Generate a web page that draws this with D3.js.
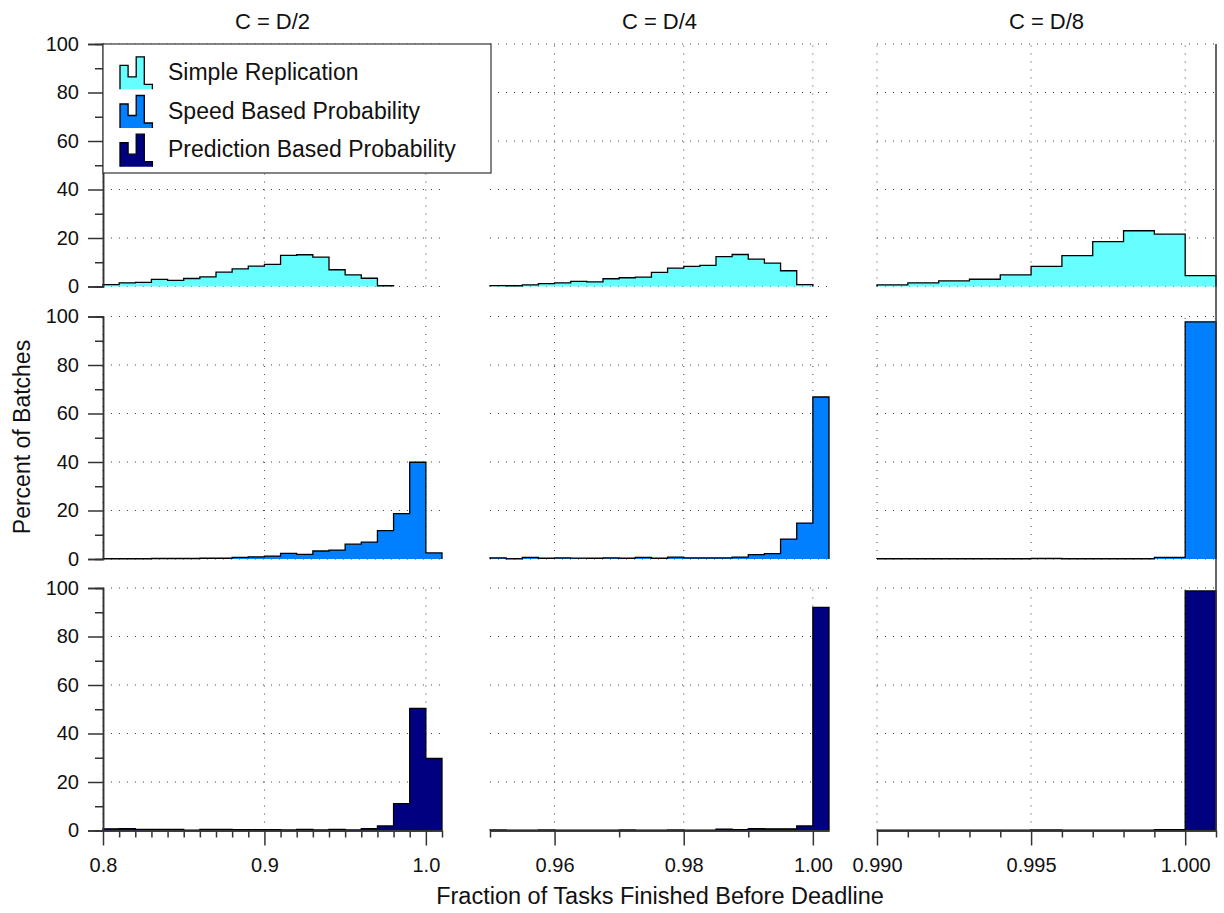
<!DOCTYPE html>
<html>
<head>
<meta charset="utf-8">
<script src="https://cdn.jsdelivr.net/npm/d3@7"></script>
<style>
  html, body { margin: 0; padding: 0; background: #fff; }
  svg text { font-family: "Liberation Sans", Arial, Helvetica, sans-serif; fill: #111; }
</style>
</head>
<body>
<svg id="chart" width="1224" height="913"></svg>
<script>
// Panel columns (replication budget) and histogram series (rows)
const columns = ["C = D/2", "C = D/4", "C = D/8"];
const seriesNames = ["Simple Replication", "Speed Based Probability", "Prediction Based Probability"];
const seriesColors = ["#66FFFF", "#0080FF", "#000080"];

// Histogram binning per column
const binStart = [0.80, 0.95, 0.990];
const binWidth = [0.01, 0.0025, 0.001];
const xDomains = [[0.80, 1.01], [0.95, 1.0025], [0.990, 1.001]];
const xMajorTicks = [[0.8, 0.9, 1.0], [0.96, 0.98, 1.00], [0.990, 0.995, 1.000]];
const xMinorStep = [0.01, 0.01, 0.001];
const xTickFormats = [".1f", ".2f", ".3f"];
const yMajorTicks = [0, 20, 40, 60, 80, 100];
const yMinorTicks = [10, 30, 50, 70, 90];

// Percent of batches per bin — Simple Replication
const simpleD2 = [0.8, 1.5, 1.7, 2.9, 2.5, 3.3, 4.0, 5.9, 7.3, 8.4, 9.1, 12.8, 13.1, 12.1, 6.9, 4.8, 3.4, 0.3];
const simpleD4 = [0.4, 0.3, 0.7, 1.2, 1.5, 2.1, 1.9, 3.2, 3.6, 3.9, 5.8, 7.6, 8.3, 8.7, 12.3, 13.2, 11.3, 9.6, 6.5, 0.8];
const simpleD8 = [0.7, 1.5, 2.3, 3.0, 4.8, 8.3, 12.7, 18.5, 23.0, 21.6, 4.5];

// Speed Based Probability
const speedD2 = [0.1, 0.1, 0.1, 0.2, 0.2, 0.2, 0.3, 0.3, 0.7, 0.9, 1.2, 2.3, 1.9, 3.3, 3.7, 6.1, 7.0, 11.7, 18.7, 39.9, 2.5];
const speedD4 = [0.5, 0.1, 0.7, 0.3, 0.5, 0.4, 0.3, 0.5, 0.3, 0.7, 0.3, 0.8, 0.5, 0.5, 0.5, 0.8, 1.8, 2.2, 8.2, 14.8, 66.8];
const speedD8 = [0.1, 0.1, 0.1, 0.1, 0.1, 0.2, 0.1, 0.1, 0.1, 0.7, 97.8];

// Prediction Based Probability
const predD2 = [0.7, 0.8, 0.5, 0.5, 0.5, 0.1, 0.5, 0.5, 0.3, 0.4, 0.3, 0.2, 0.5, 0.2, 0.5, 0.2, 0.8, 1.9, 11.1, 50.4, 29.7];
const predD4 = [0.2, 0.1, 0.1, 0.2, 0.1, 0.1, 0.1, 0.1, 0.2, 0.1, 0.1, 0.2, 0.1, 0.1, 0.6, 0.3, 0.8, 0.7, 0.7, 1.9, 92.0];
const predD8 = [0.1, 0.1, 0.1, 0.1, 0.1, 0.2, 0.1, 0.1, 0.1, 0.3, 98.8];

const panelValues = [
  [simpleD2, simpleD4, simpleD8],
  [speedD2, speedD4, speedD8],
  [predD2, predD4, predD8]
];

// Legend glyph: a tiny step histogram
const glyphHeights = [24, 12.5, 32.5, 5];

// ---- layout ----
const colX = [103, 490, 877];
const colW = 339;
const rowY = [44, 316.5, 588];
const rowH = 242.5;
const axisColor = "#333";

const svg = d3.select("#chart");

const gridLayer = svg.append("g");
const barLayer = svg.append("g");
const axisLayer = svg.append("g");

function styleAxis(sel) {
  sel.select(".domain").attr("stroke", axisColor).attr("stroke-width", 1.5);
  sel.selectAll(".tick line").attr("stroke", axisColor).attr("stroke-width", 1.5);
  sel.selectAll(".tick text").attr("font-size", 20).attr("fill", "#111")
     .style("font-family", "'Liberation Sans', Arial, Helvetica, sans-serif");
}

const stepLine = d3.line().x(d => d[0]).y(d => d[1]).curve(d3.curveStepAfter);

for (let r = 0; r < 3; r++) {
  for (let c = 0; c < 3; c++) {
    const x = d3.scaleLinear().domain(xDomains[c]).range([colX[c], colX[c] + colW]);
    const y = d3.scaleLinear().domain([0, 100]).range([rowY[r] + rowH, rowY[r]]);

    // dotted grid
    gridLayer.selectAll(null).data(yMajorTicks).enter().append("line")
      .attr("x1", colX[c]).attr("x2", colX[c] + colW)
      .attr("y1", d => y(d)).attr("y2", d => y(d))
      .attr("stroke", "#444").attr("stroke-width", 1).attr("stroke-dasharray", "1,7");
    gridLayer.selectAll(null).data(xMajorTicks[c]).enter().append("line")
      .attr("x1", d => x(d)).attr("x2", d => x(d))
      .attr("y1", y(0)).attr("y2", y(100))
      .attr("stroke", "#444").attr("stroke-width", 1).attr("stroke-dasharray", "1,7");

    // histogram as a filled step outline
    const vals = panelValues[r][c];
    const pts = [[x(binStart[c]), y(0)]];
    vals.forEach((v, i) => pts.push([x(binStart[c] + i * binWidth[c]), y(v)]));
    const endX = x(binStart[c] + vals.length * binWidth[c]);
    pts.push([endX, y(vals[vals.length - 1])]);
    pts.push([endX, y(0)]);
    barLayer.append("path")
      .attr("d", stepLine(pts))
      .attr("fill", seriesColors[r])
      .attr("stroke", "#000")
      .attr("stroke-width", 1.3)
      .attr("stroke-linejoin", "miter");

    // left value axis (first column only)
    if (c === 0) {
      const minorY = axisLayer.append("g")
        .attr("transform", `translate(${colX[0]},0)`)
        .call(d3.axisLeft(y).tickValues(yMinorTicks).tickSize(8).tickFormat(""));
      styleAxis(minorY);
      const majorY = axisLayer.append("g")
        .attr("transform", `translate(${colX[0]},0)`)
        .call(d3.axisLeft(y).tickValues(yMajorTicks).tickSize(15).tickPadding(9));
      styleAxis(majorY);
    }

    // bottom axis (last row only)
    if (r === 2) {
      const d0 = xDomains[c][0], d1 = xDomains[c][1], st = xMinorStep[c];
      const nMinor = Math.round((d1 - d0) / st);
      const minorX = d3.range(nMinor + 1).map(i => +(d0 + i * st).toFixed(6))
        .filter(v => !xMajorTicks[c].some(m => Math.abs(m - v) < st / 10));
      const gMinor = axisLayer.append("g")
        .attr("transform", `translate(0,${y(0)})`)
        .call(d3.axisBottom(x).tickValues(minorX).tickSize(7).tickFormat("").tickSizeOuter(0));
      styleAxis(gMinor);
      const gMajor = axisLayer.append("g")
        .attr("transform", `translate(0,${y(0)})`)
        .call(d3.axisBottom(x).tickValues(xMajorTicks[c]).tickSize(15).tickPadding(12)
          .tickFormat(d3.format(xTickFormats[c])).tickSizeOuter(0));
      styleAxis(gMajor);
    }
  }
}

// right frame of the last column
axisLayer.append("line")
  .attr("x1", colX[2] + colW).attr("x2", colX[2] + colW)
  .attr("y1", rowY[0]).attr("y2", rowY[2] + rowH)
  .attr("stroke", axisColor).attr("stroke-width", 1.5);

// column titles
svg.selectAll(".coltitle").data(columns).enter().append("text")
  .attr("class", "coltitle")
  .attr("x", (d, i) => colX[i] + colW / 2)
  .attr("y", 29)
  .attr("text-anchor", "middle")
  .attr("font-size", 22)
  .text(d => d);

// axis titles
svg.append("text")
  .attr("x", 660).attr("y", 904)
  .attr("text-anchor", "middle")
  .attr("font-size", 23.5)
  .text("Fraction of Tasks Finished Before Deadline");
svg.append("text")
  .attr("transform", "translate(30,437) rotate(-90)")
  .attr("text-anchor", "middle")
  .attr("font-size", 23)
  .text("Percent of Batches");

// legend
const legend = svg.append("g");
legend.append("rect")
  .attr("x", 103).attr("y", 44).attr("width", 388).attr("height", 129)
  .attr("fill", "#fff").attr("stroke", axisColor).attr("stroke-width", 1.2);
const glyphBinW = 8.1;
seriesNames.forEach((name, i) => {
  const gx = 120, base = 89.3 + i * 38.7;
  const pts = [[gx, base]];
  glyphHeights.forEach((h, k) => pts.push([gx + k * glyphBinW, base - h]));
  pts.push([gx + glyphHeights.length * glyphBinW, base - glyphHeights[glyphHeights.length - 1]]);
  pts.push([gx + glyphHeights.length * glyphBinW, base]);
  legend.append("path")
    .attr("d", stepLine(pts))
    .attr("fill", seriesColors[i]).attr("stroke", "#000").attr("stroke-width", 1.3);
  legend.append("text")
    .attr("x", 168).attr("y", 80 + i * 38.7)
    .attr("font-size", 23)
    .text(name);
});
</script>
</body>
</html>
